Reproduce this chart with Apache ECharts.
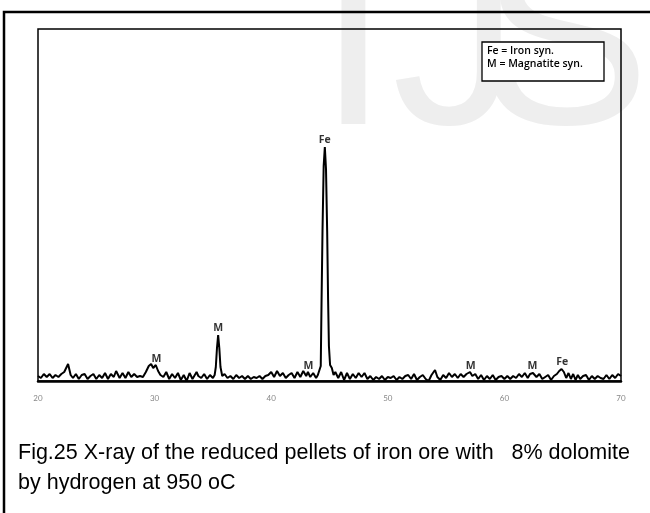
<!DOCTYPE html>
<html>
<head>
<meta charset="utf-8">
<script src="https://cdn.jsdelivr.net/npm/echarts@6/dist/echarts.min.js"></script>
<style>
  html, body { margin: 0; padding: 0; background: #fff; }
  #chart { width: 650px; height: 513px; }
</style>
</head>
<body>
<div id="chart"></div>
<script>
// diffraction angle (2θ, degrees) and intensity
const twoTheta = [
  20.0, 20.25, 20.5, 20.75, 21.0, 21.25, 21.5, 21.75, 22.0, 22.25, 22.58, 22.8, 23.0, 23.25, 23.5, 23.75,
  24.0, 24.25, 24.5, 24.75, 25.0, 25.25, 25.5, 25.75, 26.0, 26.25, 26.5, 26.7, 27.0, 27.25, 27.5, 27.75,
  28.0, 28.25, 28.5, 28.75, 29.0, 29.25, 29.5, 29.7, 29.88, 30.1, 30.3, 30.5, 30.75, 31.0, 31.25, 31.5, 31.75,
  32.0, 32.25, 32.5, 32.75, 33.0, 33.25, 33.6, 33.75, 34.0, 34.25, 34.5, 34.75, 35.0, 35.15,
  35.25, 35.35, 35.45, 35.55, 35.65, 35.8, 36.0, 36.25, 36.5, 36.75, 37.0, 37.25, 37.5, 37.75,
  38.0, 38.25, 38.5, 38.75, 39.0, 39.25, 39.5, 39.75, 40.0, 40.25, 40.5, 40.75, 41.0, 41.25, 41.5, 41.75,
  42.0, 42.25, 42.5, 42.75, 43.0, 43.15, 43.35, 43.6, 43.85, 44.0, 44.15,
  44.25, 44.32, 44.4, 44.5, 44.6, 44.7, 44.8, 44.88, 44.95, 45.05, 45.2, 45.35,
  45.5, 45.75, 46.0, 46.25, 46.5, 46.75, 47.0, 47.25, 47.5, 47.75, 48.0, 48.25, 48.5, 48.75,
  49.0, 49.25, 49.5, 49.75, 50.0, 50.25, 50.5, 50.75, 51.0, 51.25, 51.5, 51.75, 52.0, 52.25, 52.5, 52.75,
  53.0, 53.25, 53.5, 53.75, 54.05, 54.25, 54.5, 54.75, 55.0, 55.25, 55.5, 55.75, 56.0, 56.25, 56.5, 56.75,
  57.05, 57.25, 57.5, 57.75, 58.0, 58.25, 58.5, 58.75, 59.0, 59.25, 59.5, 59.75, 60.0, 60.25, 60.5, 60.75,
  61.0, 61.25, 61.5, 61.75, 62.0, 62.2, 62.45, 62.75, 63.0, 63.25, 63.5, 63.75, 64.0, 64.25, 64.5,
  64.7, 64.9, 65.1, 65.3, 65.5, 65.7, 65.9, 66.1, 66.3, 66.5, 66.75, 67.0, 67.25, 67.5, 67.75,
  68.0, 68.25, 68.5, 68.75, 69.0, 69.25, 69.5, 69.75, 70.0
];
const intensity = [
  5, 3, 7, 4, 7, 3, 6, 4, 7, 9, 17, 6, 3, 7, 2, 6,
  7, 2, 5, 7, 2, 6, 3, 8, 2, 7, 4, 10, 3, 8, 3, 9,
  4, 7, 4, 5, 4, 9, 15, 17, 13, 16, 10, 6, 4, 9, 2, 7, 3,
  8, 1, 6, 0, 8, 2, 9, 5, 3, 7, 2, 6, 3, 6,
  14, 33, 46, 33, 14, 5, 7, 3, 5, 2, 6, 3, 5, 2,
  5, 2, 4, 3, 5, 2, 5, 6, 9, 4, 10, 5, 8, 3, 6, 8,
  3, 9, 4, 10, 5, 9, 4, 8, 3, 6, 6,
  15, 81, 150, 215, 234, 212, 150, 81, 35, 16, 13, 6,
  9, 3, 9, 1, 8, 2, 7, 3, 8, 4, 8, 2, 5, 1,
  4, 2, 5, 1, 4, 3, 5, 1, 4, 2, 5, 6, 2, 7, 1, 4,
  6, 2, 0, 6, 11, 4, 1, 6, 3, 8, 4, 7, 3, 7, 4, 7,
  9, 5, 7, 2, 6, 1, 5, 2, 6, 1, 4, 5, 2, 5, 2, 5,
  3, 7, 4, 8, 3, 7, 8, 4, 7, 2, 4, 6, 1, 5, 7,
  10, 12, 9, 3, 8, 2, 7, 1, 6, 2, 5, 6, 1, 5, 2,
  5, 3, 2, 6, 2, 6, 3, 7, 5
];

// phase labels placed over the peaks
const peakNames = ['M', 'M', 'M', 'Fe', 'M', 'M', 'Fe'];
const peakTheta = [30.15, 35.45, 43.2, 44.6, 57.1, 62.4, 64.95];
const peakTop = [15, 46, 8, 234, 8, 8, 12];

const xTicks = [20, 30, 40, 50, 60, 70];

const legendLines = ['Fe = Iron syn.', 'M = Magnatite syn.'];
const captionLines = [
  'Fig.25 X-ray of the reduced pellets of iron ore with   8% dolomite',
  'by hydrogen at 950 oC'
];

const chart = echarts.init(document.getElementById('chart'));

const option = {
  animation: false,
  backgroundColor: '#fff',
  grid: {
    left: 38, right: 29, top: 29, bottom: 132,
    show: true, borderColor: '#000', borderWidth: 1.5
  },
  xAxis: {
    type: 'value',
    min: xTicks[0],
    max: xTicks[xTicks.length - 1],
    interval: 10,
    axisLine: { show: true, lineStyle: { color: '#000', width: 2.5 } },
    axisTick: { show: false },
    splitLine: { show: false },
    axisLabel: { color: '#888', fontSize: 8, margin: 13, fontFamily: 'Lato' }
  },
  yAxis: {
    type: 'value', min: 0, max: 352, show: false, splitLine: { show: false }
  },
  series: [
    {
      type: 'line',
      data: twoTheta.map((t, i) => [t, intensity[i]]),
      symbol: 'none',
      lineStyle: { color: '#000', width: 2 },
      z: 3
    },
    {
      type: 'scatter',
      data: peakTheta.map((t, i) => [t, peakTop[i], peakNames[i]]),
      symbolSize: 1,
      itemStyle: { color: 'rgba(0,0,0,0)' },
      label: {
        show: true,
        position: 'top',
        distance: 1,
        formatter: p => p.data[2],
        color: '#000',
        fontSize: 10.5,
        fontWeight: 'bold',
        fontFamily: 'Open Sans'
      },
      z: 4
    }
  ],
  graphic: [
    // faint watermark letters behind everything
    { type: 'text', left: 318, top: -74, z: -10, silent: true,
      style: { text: 'I', font: '255px "Liberation Sans"', fill: '#eeeeee' } },
    { type: 'text', left: 392, top: -74, z: -10, silent: true,
      style: { text: 'J', font: '255px "Liberation Sans"', fill: '#eeeeee' } },
    { type: 'text', left: 480, top: -74, z: -10, silent: true,
      style: { text: 'S', font: '255px "Liberation Sans"', fill: '#eeeeee' } },
    // outer frame
    { type: 'polyline', z: 10, silent: true,
      shape: { points: [[4, 513], [4, 12], [650, 12]] },
      style: { stroke: '#000', lineWidth: 2.5, fill: null } },
    // key box
    { type: 'rect', z: 10, silent: true,
      shape: { x: 482, y: 42, width: 122, height: 39 },
      style: { fill: '#fff', stroke: '#000', lineWidth: 1.3 } },
    { type: 'text', left: 487, top: 46, z: 11, silent: true,
      style: { text: legendLines[0], font: '600 10.5px "Open Sans"', fill: '#000' } },
    { type: 'text', left: 487, top: 59, z: 11, silent: true,
      style: { text: legendLines[1], font: '600 10.5px "Open Sans"', fill: '#000' } },
    // caption
    { type: 'text', left: 18, top: 442, z: 10, silent: true,
      style: { text: captionLines[0], font: '21.5px "Liberation Sans"', fill: '#000' } },
    { type: 'text', left: 18, top: 472, z: 10, silent: true,
      style: { text: captionLines[1], font: '21.5px "Liberation Sans"', fill: '#000' } }
  ]
};

chart.setOption(option);
</script>
</body>
</html>
